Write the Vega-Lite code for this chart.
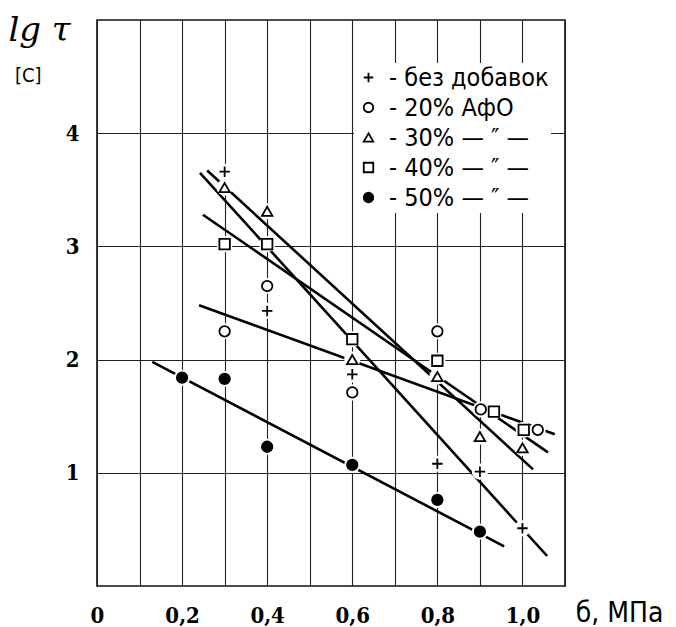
{
  "$schema": "https://vega.github.io/schema/vega-lite/v6.json",
  "width": 468,
  "height": 566,
  "autosize": {"type": "none"},
  "padding": {"left": 97, "top": 20, "right": 111, "bottom": 41},
  "background": "white",
  "title": {
    "text": "[C]",
    "anchor": "start",
    "frame": "group",
    "orient": "top",
    "offset": 0,
    "dx": -82,
    "dy": 89,
    "baseline": "alphabetic",
    "font": "DejaVu Sans Condensed, Liberation Sans Narrow, Liberation Sans",
    "fontSize": 20,
    "fontWeight": "normal",
    "color": "black"
  },
  "config": {
    "view": {"stroke": "#111", "strokeWidth": 1.6},
    "axis": {
      "gridColor": "#222",
      "gridWidth": 1.1,
      "gridOpacity": 1,
      "domain": false,
      "ticks": false,
      "tickSize": 0,
      "labelFont": "DejaVu Serif Condensed, Liberation Serif",
      "labelFontWeight": "bold",
      "labelFontSize": 22,
      "labelColor": "black",
      "labelFlush": false,
      "labelOverlap": false
    }
  },
  "datasets": {
    "points": [
      {"series": "без добавок", "x": 0.3, "y": 3.66},
      {"series": "без добавок", "x": 0.4, "y": 2.43},
      {"series": "без добавок", "x": 0.6, "y": 1.87},
      {"series": "без добавок", "x": 0.8, "y": 1.08},
      {"series": "без добавок", "x": 0.9, "y": 1.01},
      {"series": "без добавок", "x": 1.0, "y": 0.51},
      {"series": "20% АфО", "x": 0.3, "y": 2.25},
      {"series": "20% АфО", "x": 0.4, "y": 2.65},
      {"series": "20% АфО", "x": 0.6, "y": 1.71},
      {"series": "20% АфО", "x": 0.8, "y": 2.25},
      {"series": "20% АфО", "x": 0.902, "y": 1.56},
      {"series": "20% АфО", "x": 1.036, "y": 1.38},
      {"series": "30%", "x": 0.3, "y": 3.52},
      {"series": "30%", "x": 0.4, "y": 3.31},
      {"series": "30%", "x": 0.6, "y": 2.0},
      {"series": "30%", "x": 0.8, "y": 1.85},
      {"series": "30%", "x": 0.9, "y": 1.32},
      {"series": "30%", "x": 1.0, "y": 1.22},
      {"series": "40%", "x": 0.3, "y": 3.02},
      {"series": "40%", "x": 0.4, "y": 3.02},
      {"series": "40%", "x": 0.6, "y": 2.18},
      {"series": "40%", "x": 0.8, "y": 1.99},
      {"series": "40%", "x": 0.933, "y": 1.54},
      {"series": "40%", "x": 1.003, "y": 1.38},
      {"series": "50%", "x": 0.2, "y": 1.84},
      {"series": "50%", "x": 0.3, "y": 1.83},
      {"series": "50%", "x": 0.4, "y": 1.23},
      {"series": "50%", "x": 0.6, "y": 1.07},
      {"series": "50%", "x": 0.8, "y": 0.76},
      {"series": "50%", "x": 0.9, "y": 0.48}
    ],
    "lines": [
      {"series": "без добавок", "x": 0.242, "y": 3.65},
      {"series": "без добавок", "x": 1.058, "y": 0.265},
      {"series": "20% АфО", "x": 0.24, "y": 2.48},
      {"series": "20% АфО", "x": 1.076, "y": 1.34},
      {"series": "30%", "x": 0.259, "y": 3.67},
      {"series": "30%", "x": 1.025, "y": 1.03},
      {"series": "40%", "x": 0.249, "y": 3.28},
      {"series": "40%", "x": 1.06, "y": 1.18},
      {"series": "50%", "x": 0.13, "y": 1.98},
      {"series": "50%", "x": 0.957, "y": 0.35}
    ]
  },
  "encoding": {
    "x": {
      "field": "x",
      "type": "quantitative",
      "scale": {"domain": [0, 1.1], "nice": false, "zero": false},
      "axis": {
        "values": [0, 0.1, 0.2, 0.3, 0.4, 0.5, 0.6, 0.7, 0.8, 0.9, 1.0, 1.1],
        "labelExpr": "datum.value < 0.01 ? '0' : ((round(datum.value * 10) % 2 == 0 && datum.value < 1.05) ? (floor(datum.value + 0.001) + ',' + (round(datum.value * 10) % 10)) : '')",
        "labelBaseline": "alphabetic",
        "labelPadding": 36,
        "title": "б, МПа",
        "titleFont": "DejaVu Sans Condensed, Liberation Sans Narrow, Liberation Sans",
        "titleFontSize": 28,
        "titleFontWeight": "normal",
        "titleColor": "black",
        "titleX": 522,
        "titleY": 35,
        "titleAlign": "center",
        "titleBaseline": "alphabetic",
        "titleAnchor": null
      }
    },
    "y": {
      "field": "y",
      "type": "quantitative",
      "scale": {"domain": [0, 5], "nice": false, "zero": false},
      "axis": {
        "values": [1, 2, 3, 4],
        "labelBaseline": "middle",
        "labelPadding": 18,
        "title": "lg τ",
        "titleFont": "DejaVu Serif",
        "titleFontStyle": "italic",
        "titleFontSize": 34,
        "titleFontWeight": "normal",
        "titleColor": "black",
        "titleAngle": 0,
        "titleX": -58,
        "titleY": 20,
        "titleAlign": "center",
        "titleBaseline": "alphabetic"
      }
    }
  },
  "layer": [
    {
      "data": {"name": "lines"},
      "mark": {"type": "line", "color": "black", "strokeWidth": 2.6},
      "encoding": {"detail": {"field": "series"}}
    },
    {
      "data": {"name": "points"},
      "mark": {"type": "point", "shape": "circle", "filled": true, "color": "white", "opacity": 1, "size": 260},
      "encoding": {}
    },
    {
      "data": {"name": "points"},
      "mark": {"type": "point", "strokeWidth": 1.8, "opacity": 1, "size": 110},
      "encoding": {
        "shape": {
          "field": "series",
          "type": "nominal",
          "scale": {
            "domain": ["без добавок", "20% АфО", "30%", "40%", "50%"],
            "range": ["M-1,0L1,0M0,-1L0,1", "circle", "triangle-up", "square", "circle"]
          },
          "legend": {
            "title": null,
            "orient": "none",
            "legendX": 257,
            "legendY": 43,
            "fillColor": "white",
            "padding": 2,
            "labelFont": "DejaVu Sans Condensed, Liberation Sans Narrow, Liberation Sans",
            "labelFontSize": 25,
            "labelColor": "black",
            "labelLimit": 400,
            "symbolStrokeColor": "black",
            "symbolStrokeWidth": 1.8,
            "symbolSize": 90,
            "rowPadding": 4,
            "labelOffset": 8,
            "labelExpr": "(datum.label == 'без добавок' || datum.label == '20% АфО') ? '- ' + datum.label : '- ' + datum.label + '  — ″ —'",
            "encode": {
              "symbols": {
                "update": {
                  "stroke": {"value": "black"},
                  "strokeWidth": {"value": 1.8},
                  "opacity": {"value": 1}
                }
              }
            }
          }
        },
        "fill": {
          "field": "series",
          "type": "nominal",
          "scale": {
            "domain": ["без добавок", "20% АфО", "30%", "40%", "50%"],
            "range": ["white", "white", "white", "white", "black"]
          }
        },
        "stroke": {
          "field": "series",
          "type": "nominal",
          "scale": {
            "domain": ["без добавок", "20% АфО", "30%", "40%", "50%"],
            "range": ["black", "black", "black", "black", "black"]
          }
        }
      }
    }
  ]
}
